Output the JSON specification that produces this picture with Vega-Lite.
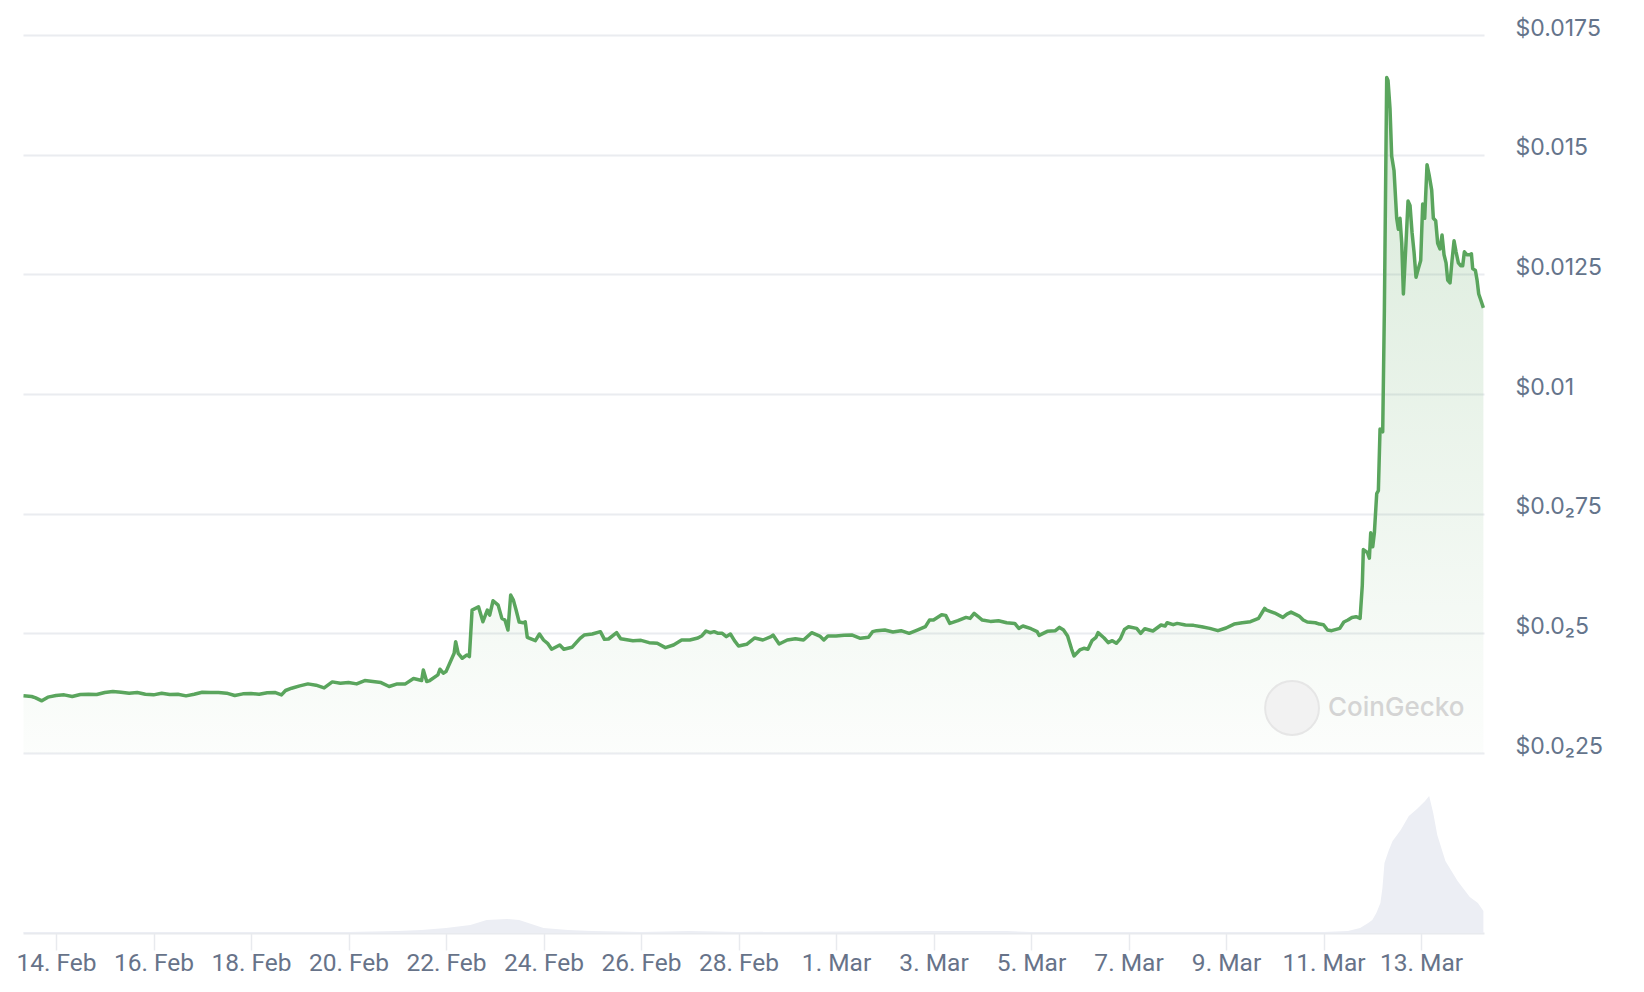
{
  "$schema": "https://vega.github.io/schema/vega-lite/v6.json",
  "width": 1461,
  "height": 898,
  "autosize": {"type": "none"},
  "padding": {"left": 23, "top": 35, "right": 160, "bottom": 59},
  "background": "#ffffff",
  "config": {
    "view": {"stroke": null},
    "axisX": {
      "title": null, "format": "%-d. %b", "grid": false,
      "domain": true, "domainColor": "#e8eaee", "domainWidth": 2,
      "ticks": true, "tickColor": "#e8eaee", "tickWidth": 1.5, "tickSize": 17,
      "labelFont": "Roboto", "labelFontSize": 24.5, "labelColor": "#677389",
      "labelBaseline": "alphabetic", "labelPadding": 20, "labelOverlap": false
    },
    "axisY": {
      "title": null, "orient": "right",
      "grid": true, "gridColor": "#eaecf0", "gridWidth": 2,
      "domain": false, "ticks": false, "tickSize": 0,
      "labelFont": "Inter", "labelFontSize": 23, "labelColor": "#64748b",
      "labelAlign": "left", "labelBaseline": "alphabetic", "labelPadding": 31, "labelOverlap": false
    }
  },
  "datasets": {
    "price": [
      {"date":"2024-02-13T08:00","price":0.003694},{"date":"2024-02-13T12:00","price":0.003681},{"date":"2024-02-13T14:00","price":0.003653},{"date":"2024-02-13T17:00","price":0.003590},{"date":"2024-02-13T20:00","price":0.003667},
      {"date":"2024-02-14T00:00","price":0.003701},{"date":"2024-02-14T04:00","price":0.003715},{"date":"2024-02-14T08:00","price":0.003681},{"date":"2024-02-14T12:00","price":0.003722},{"date":"2024-02-14T16:00","price":0.003729},{"date":"2024-02-14T20:00","price":0.003722},
      {"date":"2024-02-15T00:00","price":0.003764},{"date":"2024-02-15T04:00","price":0.003785},{"date":"2024-02-15T08:00","price":0.003771},{"date":"2024-02-15T12:00","price":0.003750},{"date":"2024-02-15T16:00","price":0.003764},{"date":"2024-02-15T20:00","price":0.003729},
      {"date":"2024-02-16T00:00","price":0.003715},{"date":"2024-02-16T04:00","price":0.003750},{"date":"2024-02-16T08:00","price":0.003722},{"date":"2024-02-16T12:00","price":0.003729},{"date":"2024-02-16T16:00","price":0.003694},{"date":"2024-02-16T20:00","price":0.003729},
      {"date":"2024-02-17T00:00","price":0.003771},{"date":"2024-02-17T04:00","price":0.003764},{"date":"2024-02-17T08:00","price":0.003764},{"date":"2024-02-17T12:00","price":0.003750},{"date":"2024-02-17T16:00","price":0.003701},{"date":"2024-02-17T20:00","price":0.003736},
      {"date":"2024-02-18T00:00","price":0.003743},{"date":"2024-02-18T04:00","price":0.003729},{"date":"2024-02-18T08:00","price":0.003757},{"date":"2024-02-18T12:00","price":0.003764},{"date":"2024-02-18T15:00","price":0.003715},{"date":"2024-02-18T17:00","price":0.003806},{"date":"2024-02-18T20:00","price":0.003854},
      {"date":"2024-02-19T00:00","price":0.003903},{"date":"2024-02-19T04:00","price":0.003944},{"date":"2024-02-19T08:00","price":0.003917},{"date":"2024-02-19T12:00","price":0.003861},{"date":"2024-02-19T16:00","price":0.003986},{"date":"2024-02-19T20:00","price":0.003958},
      {"date":"2024-02-20T00:00","price":0.003972},{"date":"2024-02-20T04:00","price":0.003944},{"date":"2024-02-20T08:00","price":0.004014},{"date":"2024-02-20T12:00","price":0.003993},{"date":"2024-02-20T16:00","price":0.003972},{"date":"2024-02-20T20:00","price":0.003889},
      {"date":"2024-02-21T00:00","price":0.003944},{"date":"2024-02-21T04:00","price":0.003944},{"date":"2024-02-21T08:00","price":0.004056},{"date":"2024-02-21T12:00","price":0.004014},{"date":"2024-02-21T12:50","price":0.004236},{"date":"2024-02-21T14:30","price":0.003993},{"date":"2024-02-21T16:00","price":0.004014},{"date":"2024-02-21T20:00","price":0.004132},{"date":"2024-02-21T21:00","price":0.004250},{"date":"2024-02-21T22:40","price":0.004167},
      {"date":"2024-02-22T00:00","price":0.004201},{"date":"2024-02-22T04:00","price":0.004583},{"date":"2024-02-22T04:45","price":0.004826},{"date":"2024-02-22T06:00","price":0.004583},{"date":"2024-02-22T08:00","price":0.004479},{"date":"2024-02-22T10:20","price":0.004549},{"date":"2024-02-22T11:30","price":0.004514},{"date":"2024-02-22T12:50","price":0.005486},{"date":"2024-02-22T16:00","price":0.005556},{"date":"2024-02-22T18:10","price":0.005243},{"date":"2024-02-22T20:20","price":0.005486},{"date":"2024-02-22T21:30","price":0.005382},{"date":"2024-02-22T23:10","price":0.005681},
      {"date":"2024-02-23T01:40","price":0.005590},{"date":"2024-02-23T03:30","price":0.005313},{"date":"2024-02-23T05:00","price":0.005278},{"date":"2024-02-23T06:30","price":0.005069},{"date":"2024-02-23T07:50","price":0.005799},{"date":"2024-02-23T09:10","price":0.005694},{"date":"2024-02-23T10:30","price":0.005486},{"date":"2024-02-23T12:00","price":0.005236},{"date":"2024-02-23T14:00","price":0.005222},{"date":"2024-02-23T15:00","price":0.005243},{"date":"2024-02-23T16:00","price":0.004917},{"date":"2024-02-23T20:00","price":0.004847},{"date":"2024-02-23T22:00","price":0.004986},
      {"date":"2024-02-24T00:00","price":0.004861},{"date":"2024-02-24T02:00","price":0.004792},{"date":"2024-02-24T04:00","price":0.004667},{"date":"2024-02-24T08:00","price":0.004757},{"date":"2024-02-24T10:00","price":0.004667},{"date":"2024-02-24T14:00","price":0.004708},{"date":"2024-02-24T18:00","price":0.004896},{"date":"2024-02-24T20:00","price":0.004965},
      {"date":"2024-02-25T00:00","price":0.004986},{"date":"2024-02-25T04:00","price":0.005035},{"date":"2024-02-25T06:00","price":0.004875},{"date":"2024-02-25T08:00","price":0.004882},{"date":"2024-02-25T12:00","price":0.005014},{"date":"2024-02-25T14:00","price":0.004889},{"date":"2024-02-25T20:00","price":0.004847},
      {"date":"2024-02-26T00:00","price":0.004854},{"date":"2024-02-26T04:00","price":0.004806},{"date":"2024-02-26T08:00","price":0.004792},{"date":"2024-02-26T12:00","price":0.004701},{"date":"2024-02-26T16:00","price":0.004757},{"date":"2024-02-26T20:00","price":0.004861},
      {"date":"2024-02-27T00:00","price":0.004861},{"date":"2024-02-27T04:00","price":0.004903},{"date":"2024-02-27T06:00","price":0.004951},{"date":"2024-02-27T08:00","price":0.005049},{"date":"2024-02-27T10:00","price":0.005014},{"date":"2024-02-27T12:00","price":0.005035},{"date":"2024-02-27T14:00","price":0.005000},{"date":"2024-02-27T16:00","price":0.005000},{"date":"2024-02-27T18:00","price":0.004931},{"date":"2024-02-27T20:00","price":0.004986},{"date":"2024-02-27T22:00","price":0.004847},
      {"date":"2024-02-28T00:00","price":0.004736},{"date":"2024-02-28T04:00","price":0.004771},{"date":"2024-02-28T08:00","price":0.004903},{"date":"2024-02-28T12:00","price":0.004861},{"date":"2024-02-28T16:00","price":0.004931},{"date":"2024-02-28T17:00","price":0.004965},{"date":"2024-02-28T20:00","price":0.004778},
      {"date":"2024-02-29T00:00","price":0.004861},{"date":"2024-02-29T04:00","price":0.004889},{"date":"2024-02-29T08:00","price":0.004861},{"date":"2024-02-29T12:00","price":0.005014},{"date":"2024-02-29T16:00","price":0.004944},{"date":"2024-02-29T18:00","price":0.004861},{"date":"2024-02-29T20:00","price":0.004944},
      {"date":"2024-03-01T00:00","price":0.004944},{"date":"2024-03-01T04:00","price":0.004958},{"date":"2024-03-01T08:00","price":0.004965},{"date":"2024-03-01T12:00","price":0.004896},{"date":"2024-03-01T16:00","price":0.004917},{"date":"2024-03-01T18:00","price":0.005035},{"date":"2024-03-01T20:00","price":0.005056},
      {"date":"2024-03-02T00:00","price":0.005069},{"date":"2024-03-02T04:00","price":0.005028},{"date":"2024-03-02T08:00","price":0.005056},{"date":"2024-03-02T12:00","price":0.005000},{"date":"2024-03-02T16:00","price":0.005069},{"date":"2024-03-02T20:00","price":0.005139},{"date":"2024-03-02T22:00","price":0.005278},
      {"date":"2024-03-03T00:00","price":0.005278},{"date":"2024-03-03T04:00","price":0.005389},{"date":"2024-03-03T06:00","price":0.005375},{"date":"2024-03-03T08:00","price":0.005208},{"date":"2024-03-03T12:00","price":0.005264},{"date":"2024-03-03T16:00","price":0.005333},{"date":"2024-03-03T18:00","price":0.005313},{"date":"2024-03-03T20:00","price":0.005417},
      {"date":"2024-03-04T00:00","price":0.005278},{"date":"2024-03-04T04:00","price":0.005250},{"date":"2024-03-04T08:00","price":0.005264},{"date":"2024-03-04T12:00","price":0.005222},{"date":"2024-03-04T16:00","price":0.005208},{"date":"2024-03-04T18:00","price":0.005104},{"date":"2024-03-04T20:00","price":0.005153},
      {"date":"2024-03-05T00:00","price":0.005097},{"date":"2024-03-05T03:00","price":0.005035},{"date":"2024-03-05T04:00","price":0.004958},{"date":"2024-03-05T08:00","price":0.005042},{"date":"2024-03-05T12:00","price":0.005056},{"date":"2024-03-05T14:00","price":0.005125},{"date":"2024-03-05T16:00","price":0.005069},{"date":"2024-03-05T18:00","price":0.004944},{"date":"2024-03-05T20:00","price":0.004667},{"date":"2024-03-05T21:10","price":0.004528},
      {"date":"2024-03-06T00:00","price":0.004653},{"date":"2024-03-06T02:00","price":0.004688},{"date":"2024-03-06T04:00","price":0.004667},{"date":"2024-03-06T06:00","price":0.004847},{"date":"2024-03-06T08:00","price":0.004917},{"date":"2024-03-06T09:00","price":0.005014},{"date":"2024-03-06T12:00","price":0.004903},{"date":"2024-03-06T14:00","price":0.004806},{"date":"2024-03-06T16:00","price":0.004847},{"date":"2024-03-06T18:00","price":0.004792},{"date":"2024-03-06T20:00","price":0.004889},{"date":"2024-03-06T22:00","price":0.005083},
      {"date":"2024-03-07T00:00","price":0.005139},{"date":"2024-03-07T04:00","price":0.005104},{"date":"2024-03-07T06:00","price":0.005000},{"date":"2024-03-07T08:00","price":0.005097},{"date":"2024-03-07T12:00","price":0.005049},{"date":"2024-03-07T16:00","price":0.005174},{"date":"2024-03-07T18:00","price":0.005153},{"date":"2024-03-07T19:00","price":0.005222},{"date":"2024-03-07T22:00","price":0.005181},
      {"date":"2024-03-08T00:00","price":0.005208},{"date":"2024-03-08T04:00","price":0.005174},{"date":"2024-03-08T08:00","price":0.005167},{"date":"2024-03-08T12:00","price":0.005139},{"date":"2024-03-08T16:00","price":0.005104},{"date":"2024-03-08T20:00","price":0.005056},
      {"date":"2024-03-09T00:00","price":0.005111},{"date":"2024-03-09T04:00","price":0.005194},{"date":"2024-03-09T08:00","price":0.005222},{"date":"2024-03-09T12:00","price":0.005243},{"date":"2024-03-09T16:00","price":0.005313},{"date":"2024-03-09T18:00","price":0.005451},{"date":"2024-03-09T19:00","price":0.005521},{"date":"2024-03-09T20:00","price":0.005486},
      {"date":"2024-03-10T00:00","price":0.005424},{"date":"2024-03-10T04:00","price":0.005333},{"date":"2024-03-10T06:00","price":0.005403},{"date":"2024-03-10T08:00","price":0.005444},{"date":"2024-03-10T12:00","price":0.005361},{"date":"2024-03-10T14:00","price":0.005278},{"date":"2024-03-10T16:00","price":0.005236},{"date":"2024-03-10T20:00","price":0.005222},{"date":"2024-03-10T22:00","price":0.005194},
      {"date":"2024-03-11T00:00","price":0.005181},{"date":"2024-03-11T02:00","price":0.005069},{"date":"2024-03-11T04:00","price":0.005056},{"date":"2024-03-11T08:00","price":0.005104},{"date":"2024-03-11T10:00","price":0.005236},{"date":"2024-03-11T12:00","price":0.005278},{"date":"2024-03-11T14:00","price":0.005333},{"date":"2024-03-11T16:00","price":0.005347},{"date":"2024-03-11T18:00","price":0.005313},
      {"date":"2024-03-11T19:05","price":0.00600},{"date":"2024-03-11T19:36","price":0.00675},{"date":"2024-03-11T21:35","price":0.00669},{"date":"2024-03-11T22:34","price":0.00657},{"date":"2024-03-11T23:14","price":0.00710},
      {"date":"2024-03-12T00:13","price":0.00681},{"date":"2024-03-12T01:02","price":0.00710},{"date":"2024-03-12T02:11","price":0.00792},{"date":"2024-03-12T03:00","price":0.00798},{"date":"2024-03-12T03:49","price":0.00927},{"date":"2024-03-12T05:08","price":0.00921},{"date":"2024-03-12T05:57","price":0.01174},{"date":"2024-03-12T07:06","price":0.01661},{"date":"2024-03-12T07:45","price":0.01655},{"date":"2024-03-12T08:44","price":0.01596},{"date":"2024-03-12T09:33","price":0.01497},{"date":"2024-03-12T10:42","price":0.01467},{"date":"2024-03-12T12:01","price":0.01367},{"date":"2024-03-12T12:50","price":0.01344},{"date":"2024-03-12T13:39","price":0.01367},{"date":"2024-03-12T14:30","price":0.01315},{"date":"2024-03-12T15:19","price":0.01209},{"date":"2024-03-12T16:36","price":0.01315},{"date":"2024-03-12T17:36","price":0.01403},{"date":"2024-03-12T18:35","price":0.01394},{"date":"2024-03-12T19:34","price":0.01338},{"date":"2024-03-12T20:33","price":0.01297},{"date":"2024-03-12T21:32","price":0.01244},{"date":"2024-03-12T22:41","price":0.01262},{"date":"2024-03-12T23:50","price":0.01279},
      {"date":"2024-03-13T00:49","price":0.01397},{"date":"2024-03-13T01:48","price":0.01367},{"date":"2024-03-13T02:57","price":0.01479},{"date":"2024-03-13T04:06","price":0.01455},{"date":"2024-03-13T05:15","price":0.01426},{"date":"2024-03-13T06:04","price":0.01367},{"date":"2024-03-13T07:13","price":0.01362},{"date":"2024-03-13T08:12","price":0.01315},{"date":"2024-03-13T09:22","price":0.01303},{"date":"2024-03-13T10:21","price":0.01332},{"date":"2024-03-13T11:20","price":0.01291},{"date":"2024-03-13T12:19","price":0.01274},{"date":"2024-03-13T13:08","price":0.01238},{"date":"2024-03-13T14:17","price":0.01232},{"date":"2024-03-13T15:16","price":0.01279},{"date":"2024-03-13T16:15","price":0.01320},{"date":"2024-03-13T17:14","price":0.01297},{"date":"2024-03-13T18:23","price":0.01274},{"date":"2024-03-13T19:32","price":0.01268},{"date":"2024-03-13T20:31","price":0.01268},{"date":"2024-03-13T21:20","price":0.01297},{"date":"2024-03-13T22:29","price":0.01291},{"date":"2024-03-13T23:48","price":0.01291},
      {"date":"2024-03-14T00:48","price":0.01293},{"date":"2024-03-14T01:26","price":0.01262},{"date":"2024-03-14T02:46","price":0.01258},{"date":"2024-03-14T03:35","price":0.01238},{"date":"2024-03-14T04:24","price":0.01209},{"date":"2024-03-14T05:23","price":0.01197},{"date":"2024-03-14T06:42","price":0.01180}
    ],
    "volume": [
      {"date":"2024-02-13T08:00","volume":10000},{"date":"2024-02-20T00:00","volume":10000},{"date":"2024-02-21T00:00","volume":20000},{"date":"2024-02-21T12:00","volume":30000},{"date":"2024-02-22T00:00","volume":50000},{"date":"2024-02-22T12:00","volume":80000},{"date":"2024-02-22T20:00","volume":130000},{"date":"2024-02-23T06:00","volume":140000},{"date":"2024-02-23T12:00","volume":130000},{"date":"2024-02-23T18:00","volume":90000},{"date":"2024-02-24T00:00","volume":50000},{"date":"2024-02-24T12:00","volume":30000},{"date":"2024-02-25T00:00","volume":20000},{"date":"2024-02-26T00:00","volume":10000},{"date":"2024-02-27T00:00","volume":20000},{"date":"2024-02-28T00:00","volume":10000},{"date":"2024-03-03T00:00","volume":20000},{"date":"2024-03-04T12:00","volume":20000},{"date":"2024-03-05T00:00","volume":10000},{"date":"2024-03-11T00:00","volume":10000},{"date":"2024-03-11T12:00","volume":20000},{"date":"2024-03-11T18:00","volume":50000},{"date":"2024-03-11T22:00","volume":100000},{"date":"2024-03-12T00:00","volume":130000},{"date":"2024-03-12T02:00","volume":200000},{"date":"2024-03-12T04:00","volume":300000},{"date":"2024-03-12T05:00","volume":450000},{"date":"2024-03-12T06:00","volume":700000},{"date":"2024-03-12T08:00","volume":820000},{"date":"2024-03-12T10:00","volume":920000},{"date":"2024-03-12T14:00","volume":1030000},{"date":"2024-03-12T18:00","volume":1170000},{"date":"2024-03-12T22:00","volume":1240000},{"date":"2024-03-13T02:00","volume":1320000},{"date":"2024-03-13T04:00","volume":1370000},{"date":"2024-03-13T06:00","volume":1200000},{"date":"2024-03-13T08:00","volume":980000},{"date":"2024-03-13T12:00","volume":720000},{"date":"2024-03-13T18:00","volume":520000},{"date":"2024-03-14T00:00","volume":360000},{"date":"2024-03-14T04:00","volume":300000},{"date":"2024-03-14T06:42","volume":220000}
    ]
  },
  "encoding": {
    "x": {
      "field": "date", "type": "temporal",
      "scale": {"domain": [{"year": 2024, "month": 2, "date": 13, "hours": 7, "minutes": 45}, {"year": 2024, "month": 3, "date": 14, "hours": 7}]},
      "axis": {
        "values": [
          {"year": 2024, "month": 2, "date": 14}, {"year": 2024, "month": 2, "date": 16}, {"year": 2024, "month": 2, "date": 18}, {"year": 2024, "month": 2, "date": 20}, {"year": 2024, "month": 2, "date": 22}, {"year": 2024, "month": 2, "date": 24}, {"year": 2024, "month": 2, "date": 26}, {"year": 2024, "month": 2, "date": 28}, {"year": 2024, "month": 3, "date": 1}, {"year": 2024, "month": 3, "date": 3}, {"year": 2024, "month": 3, "date": 5}, {"year": 2024, "month": 3, "date": 7}, {"year": 2024, "month": 3, "date": 9}, {"year": 2024, "month": 3, "date": 11}, {"year": 2024, "month": 3, "date": 13}
        ]
      }
    }
  },
  "resolve": {"scale": {"y": "independent"}, "axis": {"y": "independent"}},
  "layer": [
    {
      "data": {"name": "volume"},
      "mark": {"type": "area", "color": "#eceef4", "interpolate": "linear"},
      "encoding": {
        "y": {"field": "volume", "type": "quantitative", "scale": {"domain": [0, 8980000], "nice": false, "zero": true}, "axis": null}
      }
    },
    {
      "data": {"name": "price"},
      "encoding": {
        "y": {
          "field": "price", "type": "quantitative",
          "scale": {"domain": [-0.00126, 0.0175], "nice": false, "zero": false},
          "axis": {
            "grid": true,
            "values": [0.0025, 0.005, 0.0075, 0.01, 0.0125, 0.015, 0.0175],
            "labelExpr": "'$' + replace(format(datum.value, '~g'), '0.00', '0.0₂')"
          }
        }
      },
      "layer": [
        {
          "mark": {
            "type": "area",
            "fill": {"gradient": "linear", "x1": 0, "y1": 0, "x2": 0, "y2": 1,
              "stops": [{"offset": 0, "color": "rgba(90,165,93,0.24)"}, {"offset": 1, "color": "rgba(90,165,93,0.02)"}]}
          },
          "encoding": {"y2": {"datum": 0.0025}}
        },
        {
          "mark": {"type": "line", "color": "#5aa55d", "strokeWidth": 3.5, "strokeJoin": "round"},
          "encoding": {}
        },
        {
          "data": {"values": [{"date": "2024-03-10T08:30", "price": 0.00344}]},
          "mark": {"type": "point", "filled": true, "fill": "#f2f2f2", "stroke": "#e6e6e6", "strokeWidth": 2, "size": 2900, "opacity": 1},
          "encoding": {}
        },
        {
          "data": {"values": [{"date": "2024-03-11T02:13", "price": 0.00344}]},
          "mark": {"type": "text", "text": "CoinGecko", "font": "Inter", "fontSize": 26, "fontWeight": 500, "color": "#d4d4d4", "align": "left", "baseline": "middle"},
          "encoding": {}
        }
      ]
    }
  ]
}
